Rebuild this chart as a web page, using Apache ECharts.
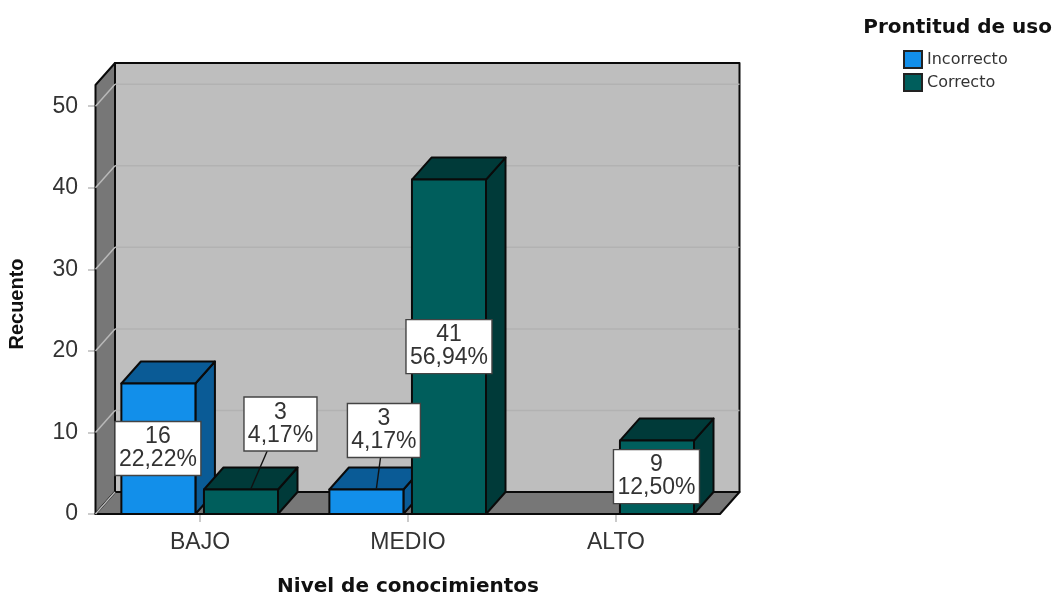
<!DOCTYPE html>
<html><head><meta charset="utf-8">
<style>html,body{margin:0;padding:0;background:#fff}#c{width:1052px;height:593px}</style>
<script src="https://cdn.jsdelivr.net/npm/echarts@6/dist/echarts.min.js"></script>
</head><body><div id="c"></div>
<script>
const categories = ['BAJO', 'MEDIO', 'ALTO'];
const incorrecto = [16, 3, null];
const correcto = [3, 41, 9];
const incorrectoPct = ['22,22%', '4,17%', null];
const correctoPct = ['4,17%', '56,94%', '12,50%'];
const yTicks = [0, 10, 20, 30, 40, 50];
const seriesNames = ['Incorrecto', 'Correcto'];

const FONT = '"Liberation Sans", Arial, sans-serif';
const WIDE = '"DejaVu Sans", sans-serif';
const DX = 19.5, DY = -22;
const AX_MAX = 52.6;
const COLORS = [
  { front: '#128fea', dark: '#0a5b96' },
  { front: '#005e5c', dark: '#003a39' }
];
const BAR_OFFSET = [-0.2, 0.197], BAR_HALF = 0.178;
// box centre offset from bar's front-top centre, in px
const BOX_OFFSET = {
  '0-0': [-0.5, 65], '1-0': [39.5, -65.5],
  '0-1': [17.5, -59], '1-1': [0, 167], '1-2': [-0.5, 36]
};
const BOX_H = 54;

function poly(points, fill, stroke, lw) {
  return { type: 'polygon', shape: { points }, style: { fill, stroke: stroke || 'none', lineWidth: lw || 0, lineJoin: 'round' } };
}
function barRender(si) {
  return function (params, api) {
    const i = api.value(0), v = api.value(1);
    const band = api.size([1, 0])[0];
    const c = api.coord([i, 0]), t = api.coord([i, v]);
    const cx = c[0] + BAR_OFFSET[si] * band, hw = BAR_HALF * band;
    const x0 = cx - hw, x1 = cx + hw, y0 = c[1], y1 = t[1];
    const col = COLORS[si], s = '#0a0a0a', lw = 2;
    return { type: 'group', children: [
      poly([[x1, y0], [x1 + DX, y0 + DY], [x1 + DX, y1 + DY], [x1, y1]], col.dark, s, lw),
      poly([[x0, y1], [x0 + DX, y1 + DY], [x1 + DX, y1 + DY], [x1, y1]], col.dark, s, lw),
      poly([[x0, y0], [x1, y0], [x1, y1], [x0, y1]], col.front, s, lw)
    ] };
  };
}
function wallRender(params, api) {
  const a = api.coord([0, 0]), size = api.size([1, 0])[0];
  const xl = a[0] - size / 2 - 0.5, xr = a[0] + size * 2.5, yb = a[1];
  const yt = api.coord([0, AX_MAX])[1];
  const s = '#0a0a0a';
  return { type: 'group', children: [
    poly([[xl + DX, yb + DY], [xr + DX, yb + DY], [xr + DX, yt + DY], [xl + DX, yt + DY]], '#bebebe', s, 2),
    poly([[xl, yb], [xl + DX, yb + DY], [xl + DX, yt + DY], [xl, yt]], '#777777', s, 2),
    poly([[xl, yb], [xr, yb], [xr + DX, yb + DY], [xl + DX, yb + DY]], '#777777', s, 2)
  ] };
}
function gridRender(params, api) {
  const v = api.value(0);
  const a = api.coord([0, v]), size = api.size([1, 0])[0];
  const xl = a[0] - size / 2 - 0.5, xr = a[0] + size * 2.5, y = a[1];
  const ls = c => ({ stroke: c, lineWidth: 1.5 });
  const children = [{ type: 'line', shape: { x1: xl, y1: y, x2: xl + DX, y2: y + DY }, style: ls('#b9b9b9') }];
  if (v > 0) children.push({ type: 'line', shape: { x1: xl + DX, y1: y + DY, x2: xr + DX, y2: y + DY }, style: ls('#b2b2b2') });
  return { type: 'group', children };
}
function labelRender(params, api) {
  const si = api.value(0), i = api.value(1), v = api.value(2);
  const pct = (si === 0 ? incorrectoPct : correctoPct)[i];
  const band = api.size([1, 0])[0];
  const c = api.coord([i, 0]), t = api.coord([i, v]);
  const cx = c[0] + BAR_OFFSET[si] * band;
  const off = BOX_OFFSET[si + '-' + i];
  const bx = cx + off[0], by = t[1] + off[1];
  const w = pct.length > 5 ? 86 : 73;
  const children = [];
  if (by + BOX_H / 2 < t[1]) {
    children.push({ type: 'line', shape: { x1: bx - (off[0] - 10) * 0.45, y1: by + BOX_H / 2, x2: cx + 10, y2: t[1] - 1 }, style: { stroke: '#111', lineWidth: 1.4 } });
  }
  children.push({ type: 'rect', shape: { x: bx - w / 2, y: by - BOX_H / 2, width: w, height: BOX_H }, style: { fill: '#fff', stroke: '#444', lineWidth: 1.4 } });
  children.push({ type: 'text', style: { x: bx, y: by, text: v + '\n' + pct, fill: '#333', fontFamily: FONT, fontSize: 23, lineHeight: 23, align: 'center', verticalAlign: 'middle' } });
  return { type: 'group', children };
}
const toRows = arr => arr.map((v, i) => [i, v]).filter(r => r[1] !== null);
const labelRows = [];
[incorrecto, correcto].forEach((arr, si) => arr.forEach((v, i) => { if (v !== null) labelRows.push([si, i, v]); }));

const chart = echarts.init(document.getElementById('c'), null, { renderer: 'canvas' });
chart.setOption({
  animation: false,
  backgroundColor: '#fff',
  title: { text: 'Prontitud de uso', right: 0, top: 18, padding: 0, textStyle: { fontFamily: WIDE, fontSize: 20, fontWeight: 'bold', color: '#111' } },
  legend: {
    data: seriesNames, orient: 'vertical', left: 903, top: 50, padding: 0, itemWidth: 18, itemHeight: 17, itemGap: 4, icon: 'rect',
    selectedMode: false, textStyle: { fontFamily: WIDE, fontSize: 16, color: '#333' }
  },
  grid: { left: 96, right: 332, top: 85, bottom: 79, containLabel: false, outerBoundsMode: 'none' },
  xAxis: {
    type: 'category', data: categories,
    name: 'Nivel de conocimientos', nameLocation: 'middle', nameGap: 63,
    nameTextStyle: { fontFamily: WIDE, fontSize: 20, fontWeight: 'bold', color: '#111' },
    axisLine: { show: false }, axisTick: { show: true, alignWithLabel: true, length: 8, lineStyle: { color: '#bbb', width: 1.5 } },
    axisLabel: { fontFamily: FONT, fontSize: 23, color: '#333', margin: 17 }
  },
  yAxis: {
    type: 'value', min: 0, max: AX_MAX, interval: 10,
    name: 'Recuento', nameLocation: 'middle', nameGap: 69, nameRotate: 90,
    nameTextStyle: { fontFamily: FONT, fontSize: 20, fontWeight: 'bold', color: '#111', padding: [0, 9, 0, 0] },
    axisLine: { show: false }, splitLine: { show: false },
    axisTick: { show: true, length: 8, customValues: yTicks, lineStyle: { color: '#bbb', width: 1.5 } },
    axisLabel: { fontFamily: FONT, fontSize: 23, color: '#333', margin: 18, customValues: yTicks, padding: [5, 0, 0, 0] }
  },
  series: [
    { type: 'custom', name: 'walls', silent: true, z: 1, renderItem: wallRender, data: [[0]], encode: { x: 0 } },
    { type: 'custom', name: 'grid', silent: true, z: 2, renderItem: gridRender, data: yTicks.map(v => [v]), encode: { y: 0 } },
    { type: 'custom', name: seriesNames[0], z: 3, renderItem: barRender(0), data: toRows(incorrecto), encode: { x: 0, y: 1 },
      itemStyle: { color: COLORS[0].front, borderColor: '#222', borderWidth: 1.5 } },
    { type: 'custom', name: seriesNames[1], z: 4, renderItem: barRender(1), data: toRows(correcto), encode: { x: 0, y: 1 },
      itemStyle: { color: COLORS[1].front, borderColor: '#222', borderWidth: 1.5 } },
    { type: 'custom', name: 'labels', silent: true, z: 5, renderItem: labelRender, data: labelRows, encode: { y: 2 } }
  ]
});
</script></body></html>
